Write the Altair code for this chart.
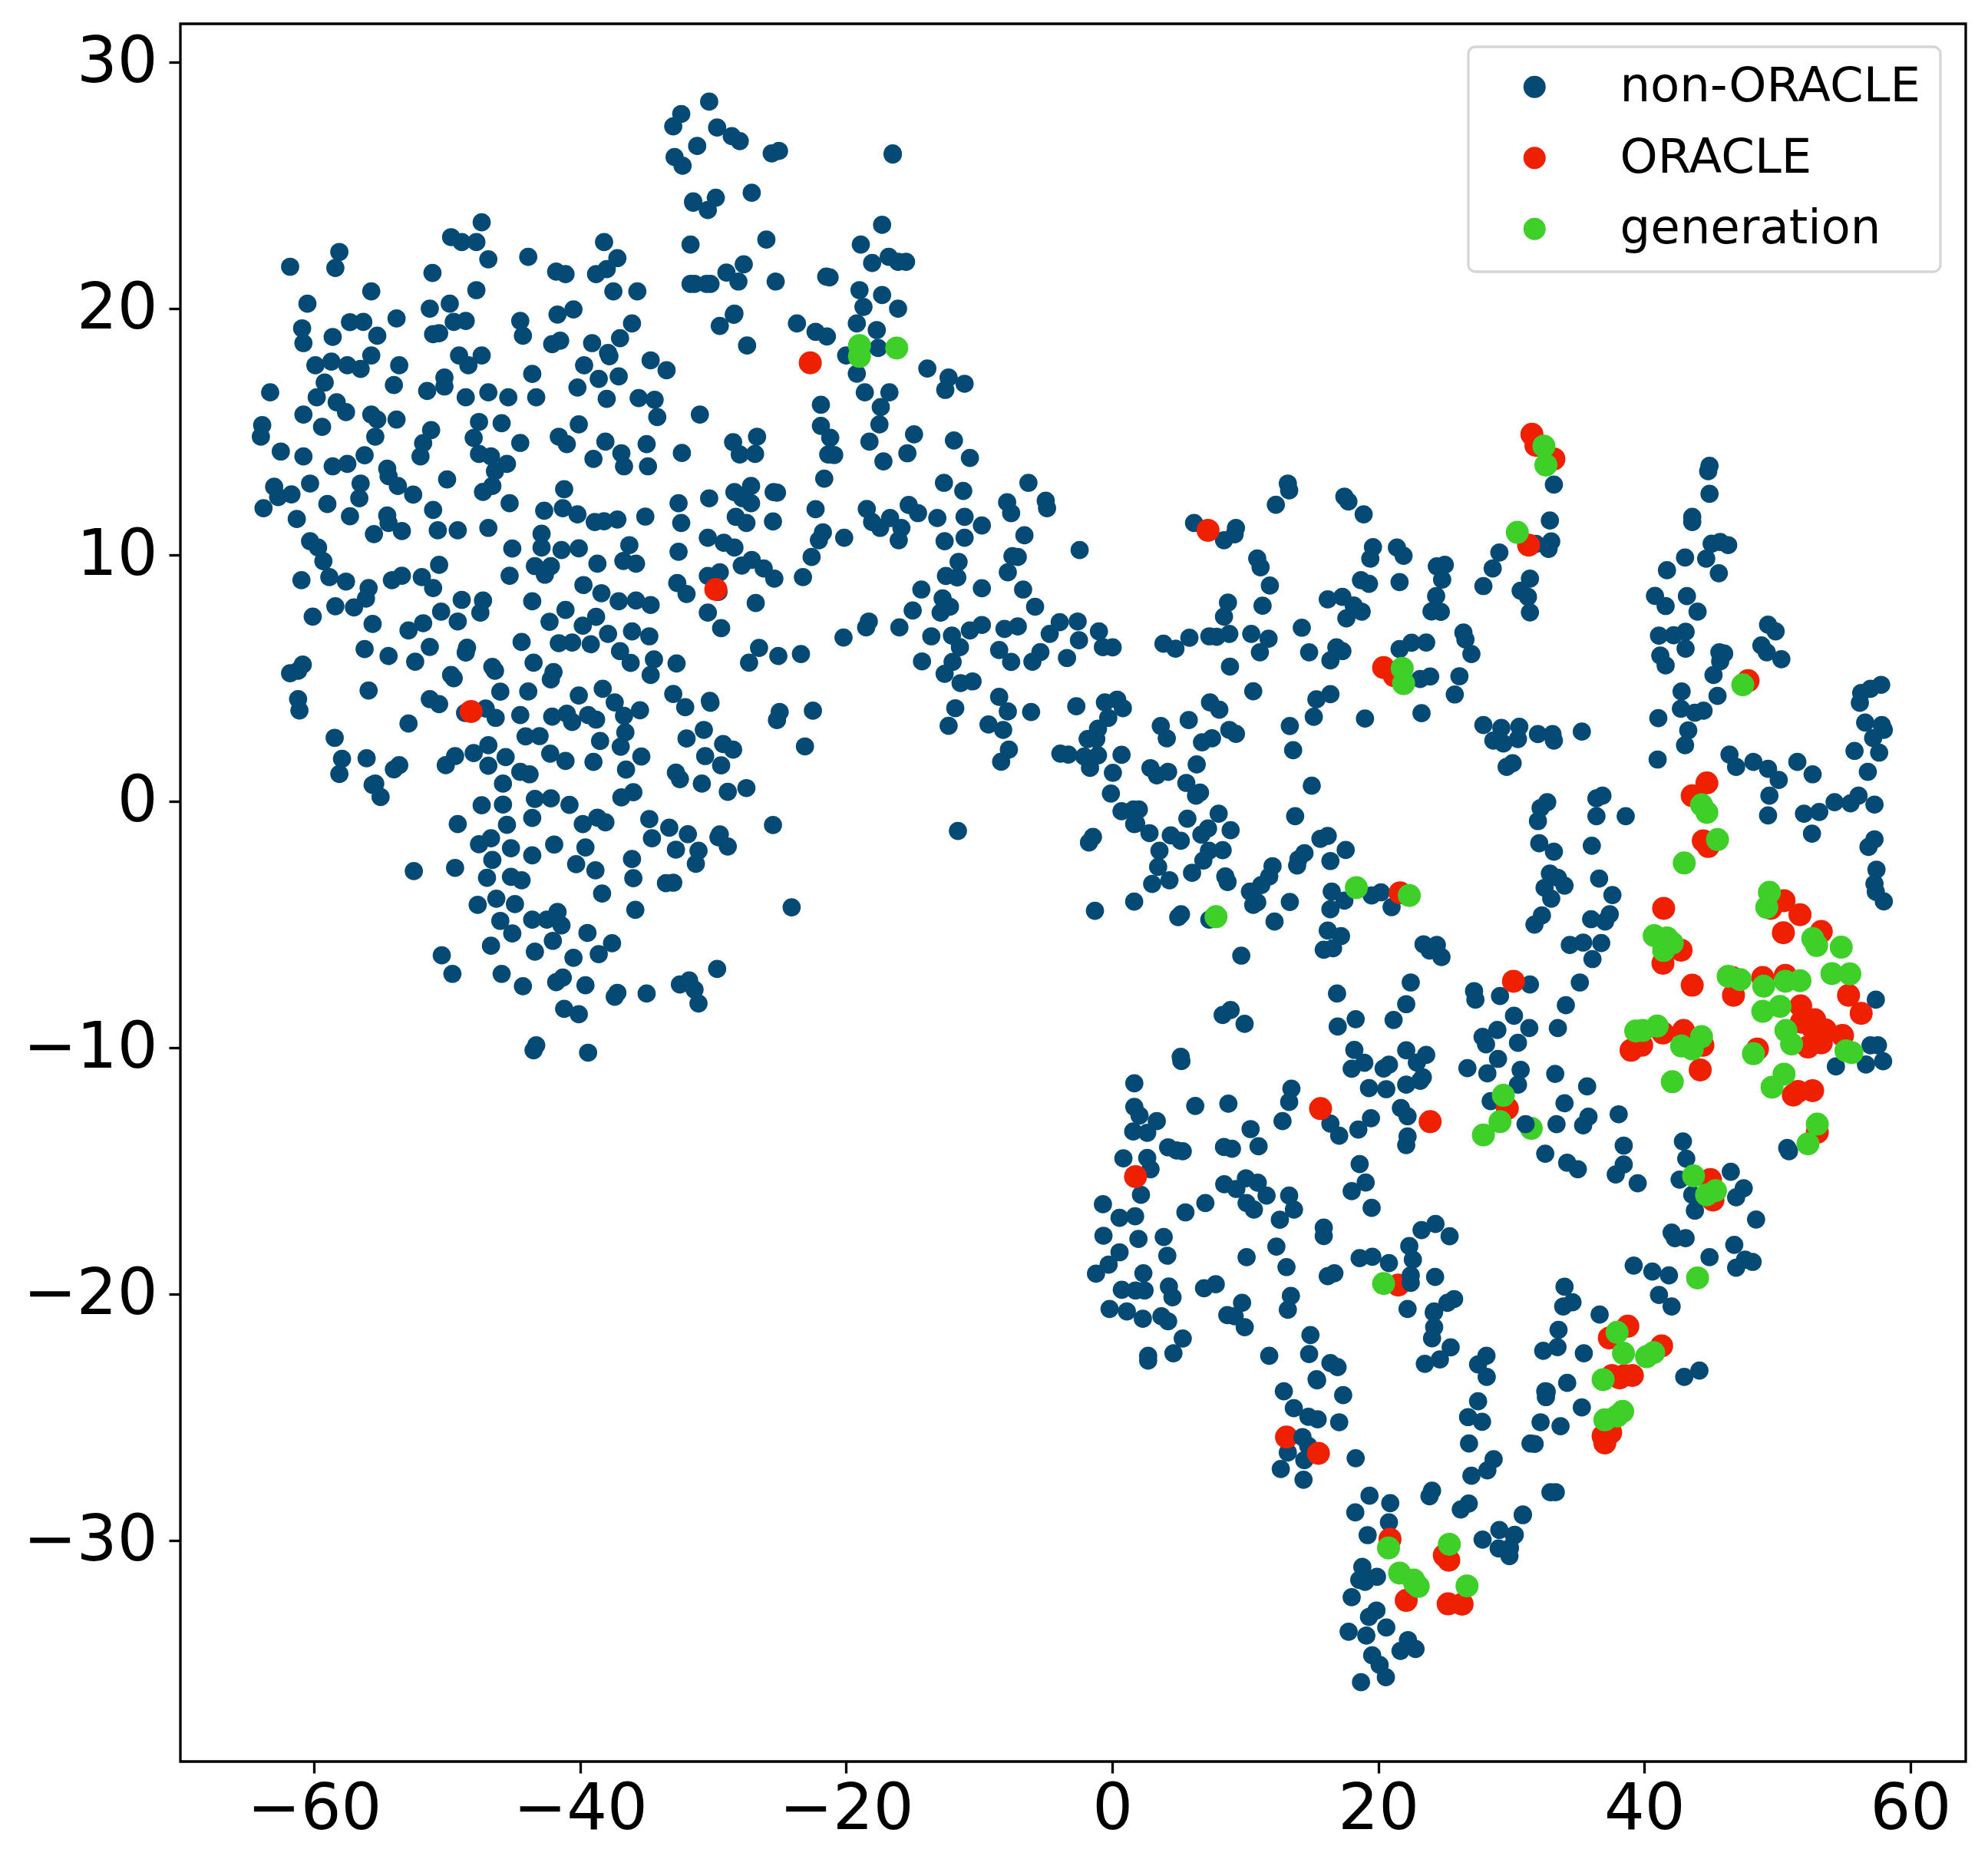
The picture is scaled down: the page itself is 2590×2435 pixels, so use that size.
import altair as alt
import pandas as pd

X_TICKS = [-60, -40, -20, 0, 20, 40, 60]
Y_TICKS = [-30, -20, -10, 0, 10, 20, 30]
SERIES = ["non-ORACLE", "ORACLE", "generation"]
COLORS = ["#044a74", "#ee2000", "#3ed028"]

left_top = [
(-47.4,23.5),(-49.7,22.9),(-48.9,22.7),(-47.8,22.7),(-46.9,22.0),(-43.9,22.1),(-41.8,21.5),(-41.1,21.4),(-38.2,22.7),(-37.2,22.05),
(-38.0,21.6),(-38.8,21.4),(-37.5,20.7),(-35.7,20.7),(-31.5,24.3),(-31.7,22.6),(-31.7,21.0),(-58.1,22.3),(-58.4,21.65),(-61.8,21.7),
(-51.1,21.45),(-55.7,20.7),(-47.8,20.75),(-60.5,20.2),(-49.8,20.2),(-51.3,20.0),(-40.5,19.97),(-41.7,19.76),(-53.8,19.6),(-57.3,19.45),
(-56.3,19.46),(-44.5,19.5),(-49.5,19.46),(-48.6,19.5),(-36.1,19.4),(-60.9,19.2),(-60.8,18.6),(-58.6,18.85),(-55.25,18.9),(-51.05,18.96),
(-50.6,19.0),(-44.3,18.9),(-37.0,18.8),(-41.5,18.7),(-42.1,18.56),(-39.1,18.6),(-37.9,18.2),(-37.8,18.07),(-55.7,18.1),(-49.1,18.1),
(-47.4,18.1),(-48.4,17.7),(-59.9,17.7),(-58.7,17.85),(-57.5,17.7),(-56.5,17.55),(-53.6,17.7),(-39.7,17.7),(-34.7,17.9),(-33.5,17.5),
(-43.6,17.35),(-50.2,17.2),(-50.2,16.84),(-59.2,17.0),(-54.0,16.9),(-38.6,17.15),(-37.1,17.25),(-40.2,16.8),(-63.3,16.6),(-51.5,16.66),
(-59.8,16.4),(-58.3,16.2),(-57.6,15.8),(-48.6,16.4),(-46.9,16.6),(-45.4,16.4),(-43.3,16.4),(-38.0,16.34),(-35.6,16.37),(-34.4,16.3),
(-34.2,15.6),(-60.8,15.7),(-59.4,15.2),(-55.7,15.7),(-55.25,15.5),(-53.8,15.5),(-47.6,15.4),(-45.9,15.35),(-40.1,15.3),(-51.2,15.07),
(-63.9,15.27),(-64.0,14.8),(-55.4,14.8),(-51.8,14.54),(-48.0,14.75),(-44.5,14.55),(-41.6,14.8),(-41.0,14.5),(-38.1,14.6),(-35.0,14.5),
(-36.9,14.13),(-32.35,14.14),(-62.5,14.2),(-60.8,14.0),(-47.6,14.1),(-46.7,14.0),(-52.0,14.0),(-56.2,14.05),(-58.6,13.6),(-57.5,13.7),
(-45.5,13.7),(-39.0,13.9),(-36.7,13.6),(-34.9,13.6),(-54.5,13.5),(-54.4,13.2),(-46.4,13.4),(-50.0,13.07),(-53.7,12.8),(-52.55,12.45),
(-63.0,12.77),(-61.7,12.46),(-62.7,12.35),(-60.3,12.9),(-56.5,12.9),(-56.6,12.3),(-46.6,12.8),(-47.3,12.56),(-41.2,12.67),(-45.3,12.1),
(-41.3,11.9),(-42.7,11.8),(-40.2,11.65),(-32.6,12.1),(-63.8,11.9),(-59.0,12.07),(-51.05,11.83),(-61.3,11.46),(-57.3,11.57),(-54.5,11.6),
(-54.4,11.3),(-53.4,10.97),(-38.9,11.34),(-38.2,11.37),(-37.2,11.44),(-35.1,11.56),(-32.4,11.3),(-55.5,10.85),(-50.7,11.0),(-49.2,11.0),
(-46.9,11.1),(-42.9,10.86),(-42.9,10.3),(-45.1,10.26),(-41.4,10.2),(-40.1,10.27),(-36.3,10.4),(-32.6,10.13),(-60.3,10.56),(-59.7,10.3),
(-59.3,9.75),(-38.7,9.65),(-36.75,9.76),(-35.8,9.65),(-50.6,9.6),(-43.4,9.55),(-42.2,9.55),
]
left_bottom = [
(-60.95,8.98),(-58.85,9.1),(-57.6,8.92),(-54.15,8.98),(-53.4,9.16),(-51.9,9.1),(-51.05,8.66),(-45.3,9.16),(-42.65,9.2),(-39.75,8.78),
(-38.4,8.45),(-37.1,8.12),(-35.8,8.15),(-34.7,7.97),(-32.7,8.86),(-32.0,8.42),(-55.9,8.66),(-56.1,8.23),(-57.0,7.87),(-58.4,7.92),
(-60.1,7.5),(-55.6,7.2),(-48.9,8.18),(-47.3,8.15),(-47.5,7.66),(-50.45,7.7),(-49.2,7.3),(-51.8,7.23),(-52.9,6.94),(-43.6,8.12),
(-41.1,7.77),(-42.3,7.29),(-38.8,7.49),(-39.8,7.13),(-37.9,6.8),(-36.1,6.9),(-34.8,6.7),(-44.4,6.47),(-41.6,6.42),(-40.6,6.45),
(-39.2,6.38),(-48.5,6.24),(-48.6,6.04),(-51.3,6.27),(-56.2,6.18),(-54.4,5.9),(-52.4,5.67),(-60.85,5.55),(-61.2,5.3),(-61.8,5.2),
(-43.5,5.63),(-37.0,6.1),(-36.2,5.62),(-34.45,5.76),(-32.75,5.6),(-34.7,5.13),(-46.6,5.46),(-46.4,5.3),(-42.0,5.25),(-42.2,4.95),
(-49.7,5.13),(-49.5,5.0),(-61.2,4.15),(-61.1,3.69),(-55.9,4.5),(-46.0,4.45),(-43.9,4.46),(-40.1,4.3),(-38.3,4.57),(-33.0,4.36),
(-37.4,4.02),(-51.3,4.15),(-50.6,3.95),(-48.65,3.59),(-47.1,3.77),(-46.35,3.39),(-44.5,3.5),(-42.1,3.44),(-41.0,3.56),(-40.6,3.22),
(-39.4,3.5),(-38.8,3.32),(-36.7,3.47),(-35.5,3.7),(-32.1,3.82),(-52.9,3.16),(-58.45,2.58),(-44.1,2.64),(-43.05,2.65),(-36.6,2.8),
(-38.5,2.45),(-36.95,2.22),(-32.0,2.55),(-46.9,2.28),(-48.0,1.96),(-49.4,1.84),(-50.1,1.47),(-45.6,1.8),(-42.25,1.94),(-41.1,1.64),
(-39.0,1.6),(-35.4,1.82),(-57.9,1.73),(-56.05,1.75),(-53.6,1.47),(-54.0,1.3),(-58.1,1.11),(-46.9,1.45),(-44.5,1.2),(-43.8,1.1),
(-36.55,1.29),(-32.8,1.17),(-32.5,0.9),(-55.4,0.72),(-55.6,0.67),(-55.0,0.18),(-45.8,0.72),(-43.4,0.1),(-42.2,0.12),(-47.4,-0.16),
(-45.8,-0.13),(-40.8,-0.14),(-36.0,0.37),(-36.9,0.16),(-49.2,-0.92),(-43.6,-0.67),(-45.5,-0.95),(-39.8,-0.92),(-38.7,-0.66),(-38.1,-0.85),
(-34.8,-0.72),(-33.3,-1.07),(-31.9,-1.33),(-34.6,-1.5),(-46.7,-1.5),(-47.6,-1.74),(-45.2,-1.9),(-41.95,-1.75),(-39.6,-1.87),(-43.6,-2.19),
(-32.8,-1.96),(-46.6,-2.38),(-36.1,-2.34),(-40.3,-2.55),(-38.85,-2.8),(-49.4,-2.7),(-52.5,-2.83),(-47.0,-3.1),(-45.2,-3.06),(-44.4,-3.2),
(-36.0,-3.12),(-33.55,-3.32),(-33.0,-3.3),(-38.35,-3.74),(-46.3,-3.95),(-47.7,-4.2),(-44.9,-4.17),(-35.85,-4.4),(-41.7,-4.49),(-43.6,-4.8),
(-42.5,-4.8),(-41.4,-5.03),(-46.0,-4.85),(-45.1,-5.36),(-39.45,-5.34),(-42.05,-5.66),(-46.7,-5.86),(-37.6,-5.76),(-43.4,-6.1),(-38.6,-6.2),
(-40.5,-6.35),(-50.4,-6.25),(-49.6,-7.0),(-45.9,-7.0),(-44.3,-7.5),(-41.3,-7.15),(-41.8,-7.34),(-39.6,-7.46),(-37.2,-7.77),(-37.4,-7.93),
(-35.0,-7.8),(-32.5,-7.43),(-31.8,-7.27),(-41.2,-8.42),(-40.1,-8.64),(-43.5,-10.1),(-43.3,-9.9),(-39.4,-10.2),
]
top_middle = [
(-30.3,28.4),(-32.4,27.9),(-33.0,27.4),(-29.7,27.35),(-28.6,27.0),(-28.0,26.8),(-31.2,26.6),(-32.9,26.15),(-32.3,25.8),(-25.6,26.3),
(-25.05,26.4),(-16.5,26.3),(-16.5,26.25),(-29.8,24.5),(-31.5,24.35),(-30.4,24.0),(-27.1,24.7),(-17.3,23.4),(-26.0,22.8),(-18.9,22.6),
(-16.8,22.1),(-18.05,21.85),(-16.1,21.9),(-15.5,21.9),(-31.4,21.0),(-30.5,21.0),(-30.2,21.0),(-29.0,21.46),(-27.7,21.8),(-28.1,21.1),
(-25.3,21.1),(-21.5,21.3),(-21.25,21.27),(-19.0,20.75),(-17.3,20.55),(-18.7,20.07),(-16.1,20.0),(-28.4,19.8),(-28.45,19.75),(-29.5,19.3),
(-23.7,19.4),(-22.3,19.06),(-21.45,18.87),(-19.2,19.4),(-17.7,19.13),(-27.45,18.5),(-17.6,18.4),(-20.0,18.1),(-19.2,17.36),(-13.9,17.57),
(-12.3,17.2),(-11.1,16.95),(-12.55,16.7),(-18.6,16.6),(-16.75,16.6),(-17.4,16.0),(-17.5,15.3),(-21.9,16.1),(-21.9,15.24),(-21.2,14.76),
(-18.25,14.6),(-14.9,14.9),(-15.4,14.13),(-17.2,13.8),(-11.9,14.65),(-10.7,13.94),(-21.35,14.08),(-20.9,14.06),(-31.0,15.7),(-28.5,14.58),
(-26.7,14.8),(-28.0,14.08),(-26.85,14.1),(-21.65,13.1),(-12.65,12.93),(-11.2,12.6),(-6.3,12.93),(-27.15,12.8),(-28.4,12.55),(-27.8,12.3),
(-27.15,12.1),(-25.45,12.55),(-25.2,12.53),(-30.3,12.3),(-28.3,11.55),(-27.5,11.3),(-25.5,11.36),(-22.3,11.86),(-18.45,11.87),(-15.3,12.03),
(-14.6,11.7),(-18.05,11.34),(-17.45,11.1),(-16.7,11.5),(-15.85,11.1),(-13.15,11.5),(-11.1,11.55),(-9.8,11.2),(-7.9,12.14),(-5.0,12.2),
(-4.9,11.9),(-7.6,11.7),(-6.6,10.8),(-21.75,10.92),(-22.05,10.6),(-20.15,10.7),(-16.05,10.6),(-12.6,10.56),(-11.1,10.7),(-30.4,10.7),
(-29.2,10.5),(-28.4,10.3),
]
centre = [
(-27.1,9.8),(-27.85,9.57),(-26.2,9.45),(-25.4,9.04),(-23.25,9.1),(-22.6,9.92),(-2.45,10.2),(-7.5,9.95),(-7.1,9.92),(-7.85,9.3),
(-6.7,8.6),(-5.8,7.9),(-11.55,9.72),(-12.5,9.15),(-11.65,9.09),(-9.8,8.65),(-14.35,8.6),(-12.75,8.24),(-12.2,7.9),(-12.9,7.66),
(-15.0,7.75),(-16.0,7.06),(-18.3,7.3),(-18.5,7.06),(-20.2,6.65),(-30.4,9.15),(-29.5,9.3),(-29.6,8.5),(-26.8,8.05),(-30.4,7.66),
(-29.4,7.03),(-26.55,6.23),(-27.3,5.63),(-25.1,5.9),(-23.4,5.98),(-30.25,4.08),(-30.2,4.0),(-25.0,3.63),(-25.2,3.3),(-22.5,3.68),
(-23.1,2.23),(-30.7,2.9),(-29.25,2.33),(-28.5,2.1),(-30.6,1.84),(-29.4,1.46),(-30.85,0.72),(-28.9,0.39),(-27.5,0.54),(-25.5,-0.96),
(-29.5,-1.34),(-29.6,-1.46),(-28.9,-1.83),(-31.1,-2.0),(-31.3,-2.53),(-24.1,-4.3),(-29.7,-6.8),(-31.4,-7.64),(-31.1,-8.2),(-1.3,-4.44),
(-11.6,-1.2),(1.65,-4.07),(-1.45,-1.44),(-1.75,-1.67),(0.7,-0.4),(1.6,-0.33),(1.65,-0.92),(-0.1,0.32),(0.05,1.16),(-1.67,1.36),
(0.7,1.89),(-1.07,1.87),(-2.1,1.82),(-3.3,1.9),(-3.9,1.94),(-1.85,2.53),(-1.2,2.53),(-1.07,2.95),(-0.3,3.39),(-0.55,4.02),
(0.37,4.13),(0.8,3.78),(-2.7,3.86),(-8.5,4.24),(-7.85,3.65),(-6.1,3.63),(-9.3,3.12),(-8.2,2.9),(-7.77,2.1),(-8.35,1.61),
(-11.8,3.78),(-12.3,3.07),(-11.4,4.8),(-10.5,4.87),(-12.6,5.18),(-12.0,5.66),(-14.3,5.68),(-13.6,6.7),(-12.05,6.73),(-11.45,6.26),
(-10.7,6.94),(-9.8,7.16),(-8.5,6.14),(-7.6,5.66),(-8.1,7.0),(-7.1,7.1),(-6.0,5.67),(-5.4,6.06),(-4.7,6.8),(-3.95,7.27),
(-2.6,7.3),(-2.5,6.54),(-3.4,5.82),(-1.0,6.9),(-0.7,6.26),(0.03,6.25),
]
right_top_a = [
(33.2,12.86),(32.9,11.4),(33.0,10.55),(32.8,10.25),(31.85,10.45),(29.1,10.1),(28.6,9.45),(27.9,8.74),(31.4,9.04),(30.7,8.55),
(31.25,8.3),(31.4,7.67),(13.2,12.9),(13.3,12.62),(12.3,12.04),(17.45,12.37),(17.75,12.17),(18.9,11.65),(6.15,11.3),(9.3,11.1),
(9.2,10.84),(8.4,10.6),(19.6,10.32),(19.4,9.85),(21.4,10.3),(21.9,9.97),(25.0,9.6),(24.4,9.54),(24.8,9.0),(24.35,8.33),
(24.0,7.71),(24.7,7.69),(10.9,9.86),(11.15,9.5),(11.85,8.76),(11.3,7.94),(8.7,8.07),(8.4,7.5),(18.7,8.98),(19.3,8.83),
(21.6,8.9),(16.2,8.2),(17.3,8.3),(18.15,7.95),(18.75,7.7),(17.6,7.43),(14.25,7.05),(5.8,6.64),(3.85,6.4),(4.75,6.2),
(7.3,6.7),(7.85,6.68),(8.8,6.8),(10.45,6.8),(11.75,6.6),(11.1,6.05),(8.85,5.47),(14.8,6.05),(16.85,6.25),(17.3,6.1),
(16.4,5.72),(26.4,6.85),(26.55,6.57),(27.0,5.98),(23.6,6.45),(22.5,6.44),(21.6,6.18),(23.15,4.97),(23.9,5.07),(26.1,5.08),
(25.75,4.34),(23.25,3.58),(10.6,4.47),(7.35,4.02),(8.05,3.72),(5.75,3.3),(3.65,3.06),(4.1,2.56),(7.5,2.56),(6.75,2.4),
(8.8,2.9),(9.3,2.74),(16.4,4.35),(15.35,4.14),(15.15,3.43),(13.35,3.06),(19.0,3.36),(13.6,2.08),(6.35,1.5),(2.87,1.35),
(3.35,1.06),(4.2,1.2),(5.57,0.75),(6.6,0.36),(6.3,0.23),(15.0,0.64),(2.0,-0.33),(1.8,-0.9),(2.8,-1.29),(5.65,-0.7),
(8.0,-0.5),(7.2,-1.1),(6.7,-1.35),(8.9,-1.17),(4.4,-1.38),(5.15,-1.6),(13.75,-0.6),(16.2,-1.4),(15.65,-1.52),(17.55,-1.97),
(3.55,-2.0),(7.27,-2.0),(8.3,-1.98),(6.85,-2.4),(3.45,-2.66),(14.45,-2.1),(14.0,-2.35),(13.9,-2.6),(16.4,-2.42),(12.05,-2.63),
(6.0,-2.9),(8.5,-3.05),(27.9,3.1),(29.25,2.98),(30.6,3.03),(28.65,2.47),(29.4,2.35),(30.5,2.53),(32.0,2.73),(33.1,2.73),
(33.2,2.47),(35.3,2.83),(30.1,1.55),(29.65,1.4),(32.7,-0.03),(32.2,-0.27),(32.0,-0.8),(32.1,-1.7),(33.2,-2.04),(36.05,-1.8),
(36.4,-0.6),(32.9,-2.93),(33.5,-3.1),
]
right_top_b = [
(44.9,13.62),(44.8,13.4),(44.9,12.48),(43.6,11.55),(43.6,11.34),(45.06,10.46),(45.7,10.53),(46.3,10.4),(43.06,9.9),(44.65,9.85),
(45.6,9.26),(41.7,9.38),(40.8,8.34),(41.6,7.93),(43.2,8.33),(44.0,7.7),(49.3,7.17),(49.87,6.9),(41.1,6.73),(42.2,6.74),
(43.1,6.88),(43.1,6.2),(41.2,5.92),(41.6,5.52),(45.64,6.05),(46.0,6.0),(45.7,5.68),(48.8,6.33),(49.2,6.05),(50.3,5.77),
(45.2,5.13),(45.5,4.28),(42.8,4.46),(42.75,3.76),(43.8,3.6),(44.45,3.68),(41.05,3.38),(43.3,2.88),(43.06,2.28),(41.0,1.7),
(46.4,1.9),(46.9,1.4),(48.2,1.6),(49.3,1.32),(50.1,0.87),(51.5,1.6),(52.65,1.1),(56.8,1.2),(55.8,2.05),(57.65,1.98),
(57.2,2.57),(56.6,3.2),(57.85,3.1),(58.0,2.9),(56.2,4.0),(56.3,4.4),(57.0,4.57),(57.8,4.73),(49.4,0.23),(54.3,-0.03),
(55.5,-0.08),(56.1,0.23),(57.3,-0.13),(36.85,0.23),(36.4,0.12),
]
right_middle = [
(38.6,-0.6),(49.3,-0.57),(52.0,-0.5),(53.15,-0.43),(52.6,-1.31),(57.3,-1.54),(56.85,-1.85),(57.45,-2.77),(57.3,-3.34),(57.4,-3.67),
(58.0,-4.06),(32.5,-3.51),(34.0,-3.42),(33.0,-3.95),(36.6,-3.13),(37.6,-3.8),(32.3,-4.63),(31.74,-5.0),(36.0,-4.78),(37.05,-4.88),
(37.4,-4.58),(34.4,-5.83),(35.4,-5.73),(36.76,-5.75),(36.1,-6.4),(31.4,-7.43),(35.15,-7.35),(34.1,-8.27),(30.2,-8.7),(31.35,-9.2),
(33.5,-9.2),(30.5,-9.8),(30.7,-10.9),(30.5,-11.5),(33.3,-11.06),(35.7,-11.57),(34.0,-12.25),(35.8,-12.8),(35.4,-13.15),(33.4,-13.1),
(38.07,-12.7),(32.55,-14.3),(34.2,-14.67),(35.0,-14.93),(38.45,-13.97),(38.45,-14.74),(37.85,-15.14),(39.5,-15.5),(42.9,-13.8),(43.15,-14.5),
(42.65,-15.35),(46.5,-15.03),(50.74,-14.07),(50.87,-14.2),(54.4,-10.76),(56.66,-10.68),(57.0,-9.9),(57.56,-9.9),(57.95,-10.55),(57.4,-8.05),
]
lower_middle = [
(3.0,-3.35),(4.3,-3.2),(8.67,-3.27),(10.35,-3.66),(11.2,-3.4),(11.8,-3.05),(13.35,-4.08),(10.6,-4.2),(10.9,-4.1),(4.96,-4.7),
(5.17,-4.58),(7.3,-4.8),(12.2,-4.88),(16.5,-3.66),(17.45,-4.03),(16.4,-4.38),(19.5,-3.82),(20.2,-3.69),(21.0,-4.29),(16.2,-5.24),
(17.2,-5.47),(15.9,-6.02),(16.6,-5.96),(9.7,-6.26),(23.4,-5.8),(23.86,-6.05),(24.4,-5.83),(24.75,-6.32),(22.44,-7.35),(16.9,-7.8),
(27.2,-7.7),(27.3,-8.05),(29.15,-7.9),(22.1,-8.23),(21.15,-8.87),(18.3,-8.84),(16.95,-9.14),(8.9,-8.47),(8.3,-8.67),(9.95,-9.03),
(18.2,-10.09),(18.95,-10.61),(18.0,-10.85),(22.1,-10.1),(23.6,-10.29),(22.9,-10.6),(20.8,-10.69),(20.4,-10.84),(23.35,-11.2),(23.15,-11.34),
(22.1,-11.5),(19.3,-11.64),(20.6,-11.68),(27.84,-9.56),(28.95,-9.28),(28.1,-9.86),(29.0,-10.45),(26.7,-10.83),(28.2,-11.04),(28.45,-12.17),
(5.15,-10.37),(5.2,-10.54),(1.66,-11.44),(13.47,-11.66),(13.3,-12.2),(12.8,-12.98),(1.66,-12.4),(2.05,-12.75),(3.35,-12.98),(6.24,-12.36),
(8.73,-12.27),(1.58,-13.4),(2.63,-13.45),(10.4,-13.3),(11.0,-14.0),(8.4,-14.03),(9.0,-14.1),(4.2,-14.04),(4.84,-14.17),(5.3,-14.2),
(16.4,-13.08),(17.06,-13.57),(18.5,-13.32),(19.45,-12.86),(21.7,-12.45),(22.2,-12.78),(22.2,-13.6),(22.1,-13.95),(18.6,-14.72),(19.05,-15.47),
(18.0,-15.82),(19.5,-16.5),(0.84,-14.49),(2.63,-14.47),(2.88,-14.93),(2.16,-15.97),(-0.7,-16.35),(0.55,-16.9),(1.72,-16.84),(8.42,-15.54),
(9.33,-15.73),(10.05,-15.3),(10.94,-15.48),(11.6,-16.0),(10.1,-16.3),(10.65,-16.57),(13.3,-16.0),(13.66,-16.57),(12.6,-16.98),(7.0,-16.3),
(5.5,-16.68),(15.9,-17.3),(15.9,-17.64),(-0.66,-17.63),(1.97,-17.76),(3.87,-17.68),(4.14,-18.44),(0.55,-18.3),(-0.27,-18.8),(-1.22,-19.17),
(12.34,-18.07),(10.1,-18.5),(13.1,-18.9),(23.25,-17.4),(24.3,-17.15),(25.36,-17.65),(22.33,-18.05),(22.6,-18.6),(24.27,-19.3),(18.6,-18.54),
(19.55,-18.48),(20.8,-18.74),(16.7,-19.15),(16.2,-19.27),(2.34,-19.15),(4.26,-19.69),(4.53,-20.13),(0.72,-19.82),(1.75,-19.85),(2.43,-19.85),
(6.9,-19.76),(7.78,-19.6),(13.43,-20.07),(9.76,-20.35),(25.7,-20.2),(25.2,-20.35),(22.2,-20.6),(24.2,-20.7),(-0.2,-20.6),(1.1,-20.7),
]
bottom = [
(2.3,-21.0),(3.7,-20.9),(4.2,-21.1),(2.7,-22.5),(2.7,-22.7),(4.6,-22.4),(5.3,-21.8),(8.65,-20.85),(9.2,-20.9),(9.96,-21.34),
(13.2,-20.63),(14.9,-21.66),(14.8,-22.43),(11.8,-22.5),(16.4,-22.8),(16.94,-22.96),(15.36,-23.45),(15.4,-23.5),(17.36,-24.1),(12.9,-23.94),
(13.65,-24.63),(14.75,-24.98),(15.44,-25.08),(17.06,-25.2),(14.73,-26.15),(13.2,-26.43),(14.44,-26.74),(12.67,-27.1),(14.38,-27.53),(18.3,-26.66),
(24.17,-20.75),(24.2,-21.34),(24.04,-21.79),(25.44,-22.16),(24.63,-22.65),(23.5,-22.83),(28.13,-22.5),(27.5,-22.85),(28.15,-23.36),(32.4,-22.3),
(27.5,-24.35),(26.75,-24.99),(27.8,-25.18),(26.82,-26.06),(32.55,-23.94),(32.6,-24.18),(32.2,-25.2),(31.44,-26.06),(31.75,-26.08),(28.67,-26.7),
(28.2,-27.15),(27.0,-27.37),(32.94,-28.04),(24.04,-27.98),(23.85,-28.2),(26.8,-28.5),(26.2,-28.74),(30.86,-28.97),(29.1,-29.57),(30.2,-29.8),
(27.84,-29.96),(29.05,-30.32),(29.9,-30.3),(29.86,-30.63),(19.34,-28.18),(20.9,-28.48),(18.27,-28.86),(20.8,-29.26),(19.2,-29.78),(18.8,-31.07),
(19.9,-31.47),(18.57,-31.6),(19.0,-31.68),(18.0,-32.3),(19.86,-32.84),(19.3,-33.1),(20.6,-33.53),(17.77,-33.7),(19.1,-33.86),(22.23,-34.04),
(21.67,-34.48),(22.8,-34.4),(19.54,-34.66),(20.1,-35.05),(20.57,-35.55),(18.7,-35.75),(43.6,-15.97),(46.9,-16.07),(47.47,-15.7),(43.8,-16.61),
(48.4,-16.97),(42.05,-17.5),(42.3,-17.73),(43.1,-17.73),(46.76,-18.0),(44.9,-18.5),(47.57,-18.6),(48.14,-18.69),(46.9,-18.93),(39.2,-18.84),
(40.6,-19.08),(41.85,-19.24),(41.1,-20.03),(42.05,-20.5),(34.0,-19.7),(34.6,-20.33),(33.9,-20.5),(36.64,-20.83),(33.55,-21.45),(33.47,-22.15),
(35.45,-22.4),(34.2,-23.6),(32.66,-23.96),(35.3,-24.6),(33.7,-25.36),(44.14,-23.1),(43.0,-23.36),(33.34,-28.04),(30.87,-28.94),(30.26,-29.77),
]
oracle = [
(-48.2,3.65),(-29.8,8.6),(-22.7,17.8),(7.2,11.0),(31.55,14.9),(31.85,14.45),(33.2,13.9),(31.3,10.4),(20.4,5.43),(21.2,5.1),
(47.8,4.9),(44.7,0.75),(43.6,0.23),(21.64,-3.71),(15.66,-12.47),(23.9,-13.0),(1.75,-15.23),(21.5,-19.63),(13.1,-25.8),(15.5,-26.46),
(20.88,-29.94),(24.96,-30.6),(25.3,-30.8),(22.1,-32.43),(25.25,-32.57),(26.3,-32.58),(30.16,-7.3),(29.7,-12.46),(41.45,-4.34),(44.43,-1.6),
(44.8,-1.83),(42.76,-6.04),(41.4,-6.57),(43.6,-7.46),(46.7,-7.87),(50.5,-4.03),(49.5,-4.34),(51.7,-4.6),(50.45,-5.33),(53.3,-5.28),
(48.9,-7.15),(50.6,-7.06),(46.6,-7.15),(55.35,-7.87),(56.3,-8.6),(51.75,-8.3),(51.8,-8.96),(52.8,-8.86),(53.6,-9.27),(54.9,-9.5),
(53.3,-9.8),(52.3,-9.97),(52.66,-9.2),(48.5,-10.05),(41.4,-9.4),(42.95,-9.3),(39.8,-9.9),(39.0,-10.1),(44.4,-9.9),(44.2,-10.9),
(51.55,-11.77),(51.2,-11.92),(52.65,-11.74),(53.0,-13.43),(44.97,-15.35),(37.37,-21.78),(38.76,-21.3),(41.3,-22.1),(37.57,-23.3),(38.14,-23.4),
(39.1,-23.3),(38.5,-23.3),(37.47,-25.62),(36.9,-25.76),(37.03,-26.04),(45.16,-16.18),
]
generation = [
(-19.0,18.5),(-19.0,18.06),(-16.2,18.4),(32.45,14.42),(32.6,13.65),(30.45,10.92),(21.8,5.4),(21.9,4.78),(47.4,4.73),(44.3,-0.14),
(44.7,-0.45),(45.5,-1.55),(43.0,-2.5),(49.4,-3.69),(49.2,-4.3),(52.66,-5.57),(52.95,-5.85),(54.8,-5.92),(40.74,-5.45),(41.7,-5.54),
(42.1,-5.75),(41.45,-6.05),(54.1,-6.99),(55.45,-7.0),(46.3,-7.1),(47.2,-7.23),(48.97,-7.5),(50.6,-7.3),(51.7,-7.28),(48.9,-8.52),
(50.2,-8.32),(50.64,-9.3),(51.07,-9.85),(55.16,-10.12),(55.6,-10.2),(48.2,-10.24),(39.35,-9.32),(39.87,-9.3),(40.97,-9.12),(44.3,-9.55),
(42.8,-9.93),(43.6,-10.05),(50.5,-11.07),(49.6,-11.6),(42.1,-11.38),(53.0,-13.1),(52.3,-13.9),(31.5,-13.27),(43.7,-15.2),(18.35,-3.5),
(22.33,-3.82),(7.8,-4.68),(20.4,-19.57),(20.77,-30.3),(25.34,-30.15),(21.6,-31.32),(22.65,-31.6),(23.0,-31.86),(22.75,-31.75),(26.67,-31.84),
(27.9,-13.54),(29.15,-13.0),(29.4,-11.93),(44.0,-19.34),(44.68,-15.97),(45.35,-15.8),(37.95,-21.55),(38.43,-22.4),(40.16,-22.54),(40.7,-22.37),
(36.9,-23.47),(37.03,-25.1),(37.95,-24.95),(38.37,-24.76),
]
# non-ORACLE points seen drawn over coloured ones
blue_on_top = [(31.07,-13.1),(22.44,-19.24),(22.44,-19.54),(14.3,-25.8)]

non_oracle = left_top + left_bottom + top_middle + centre + right_top_a + right_top_b + right_middle + lower_middle + bottom


def frame(points, name):
    return pd.DataFrame(points, columns=["x", "y"]).assign(series=name)


x_scale = alt.Scale(domain=[-70.05, 64.16], nice=False, zero=False)
y_scale = alt.Scale(domain=[-38.97, 31.56], nice=False, zero=False)
colour = alt.Color("series:N", scale=alt.Scale(domain=SERIES, range=COLORS),
                   legend=alt.Legend(orient="none", legendX=1723, legendY=51, title=None,
                                     symbolType="circle", symbolSize=841, symbolOpacity=1,
                                     symbolOffset=10, labelFont="DejaVu Sans", labelFontSize=62.5,
                                     labelColor="black", labelOffset=80, rowPadding=29.5, padding=0,
                                     labelLimit=600))


def layer(points, name, size):
    return alt.Chart(frame(points, name)).mark_circle(size=size, opacity=1).encode(
        x=alt.X("x:Q", scale=x_scale, axis=alt.Axis(values=X_TICKS, title=None, grid=False, domain=False,
                                                    tickSize=15, tickWidth=3.3, tickColor="black",
                                                    labelFont="DejaVu Sans", labelFontSize=83, labelColor="black",
                                                    labelPadding=6, labelFlush=False, labelOverlap=False)),
        y=alt.Y("y:Q", scale=y_scale, axis=alt.Axis(values=Y_TICKS, title=None, grid=False, domain=False,
                                                    tickSize=15, tickWidth=3.3, tickColor="black",
                                                    labelFont="DejaVu Sans", labelFontSize=83, labelColor="black",
                                                    labelPadding=15, labelFlush=False, labelOverlap=False)),
        color=colour,
    )


legend_box = alt.Chart(pd.DataFrame({"k": [0]})).mark_rect(
    fill="white", stroke="#d6d6d6", strokeWidth=3.3, cornerRadius=9
).encode(x=alt.value(1678), x2=alt.value(2293), y=alt.value(30), y2=alt.value(323))

chart = alt.layer(
    layer(non_oracle, "non-ORACLE", 562),
    layer(oracle, "ORACLE", 900),
    layer(generation, "generation", 900),
    layer(blue_on_top, "non-ORACLE", 562),
    legend_box,
).resolve_scale(color="shared").properties(
    width=2326, height=2264,
    padding={"left": 227, "top": 23, "right": 10, "bottom": 120},
    autosize=alt.AutoSizeParams(type="none"),
).configure_view(stroke="black", strokeWidth=3.3)

chart.save("out.html", embed_options={"renderer": "svg", "actions": False})
